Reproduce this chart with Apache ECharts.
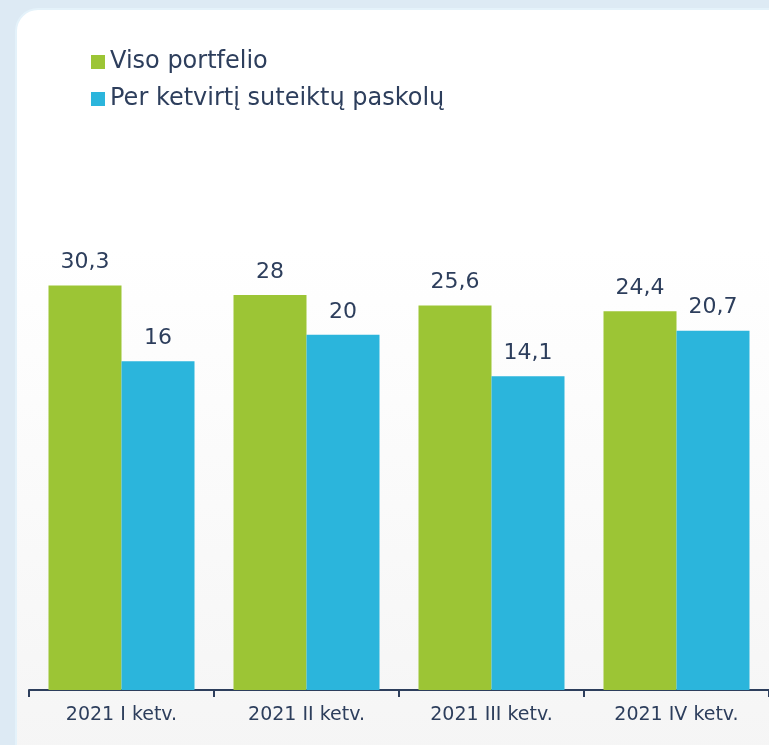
<!DOCTYPE html>
<html>
<head>
<meta charset="utf-8">
<script src="https://cdn.jsdelivr.net/npm/echarts@6/dist/echarts.min.js"></script>
<style>
    html, body { margin: 0; padding: 0; background: #ddeaf4; }
    #chart { width: 769px; height: 745px; }
</style>
</head>
<body>
<div id="chart"></div>
<script>
    // ketvirčiai
    var categories = ['2021 I ketv.', '2021 II ketv.', '2021 III ketv.', '2021 IV ketv.'];
    var seriesNames = ['Viso portfelio', 'Per ketvirtį suteiktų paskolų'];
    var visoPortfelio = [30.3, 28, 25.6, 24.4];
    var perKetvirti = [16, 20, 14.1, 20.7];

    var textColor = '#2d3e5c';
    var font = 'DejaVu Sans';

    var myChart = echarts.init(document.getElementById('chart'));

    function labelText(params) {
        return String(params.value).replace('.', ',');
    }

    var option = {
        backgroundColor: '#ddeaf4',
        animation: false,
        textStyle: { fontFamily: font },
        graphic: [
            {
                type: 'rect',
                z: -10,
                shape: { x: 16, y: 9, width: 820, height: 800, r: 22 },
                style: {
                    fill: {
                        type: 'linear', x: 0, y: 0, x2: 0, y2: 1,
                        colorStops: [
                            { offset: 0, color: '#ffffff' },
                            { offset: 0.3, color: '#ffffff' },
                            { offset: 1, color: '#f4f4f4' }
                        ]
                    },
                    stroke: '#e4f2fa',
                    lineWidth: 2
                }
            }
        ],
        legend: {
            orient: 'vertical',
            left: 86,
            top: 45,
            icon: 'rect',
            itemWidth: 14,
            itemHeight: 14,
            itemGap: 13,
            textStyle: {
                color: textColor,
                fontSize: 24,
                fontFamily: font
            },
            data: seriesNames
        },
        grid: {
            left: 29,
            width: 744,
            top: 144,
            bottom: 55
        },
        xAxis: {
            type: 'category',
            data: categories,
            axisLine: { show: true, lineStyle: { color: textColor, width: 2 } },
            axisTick: { show: true, length: 7, lineStyle: { color: textColor, width: 2 } },
            axisLabel: {
                color: textColor,
                fontSize: 19,
                margin: 16,
                fontFamily: font
            }
        },
        yAxis: {
            type: 'log',
            min: 1,
            max: 100,
            show: false,
            splitLine: { show: false }
        },
        series: [
            {
                name: seriesNames[0],
                type: 'bar',
                data: visoPortfelio,
                barWidth: 73,
                barGap: '0%',
                itemStyle: { color: '#9cc535' },
                label: {
                    show: true,
                    position: 'top',
                    distance: 12,
                    color: textColor,
                    fontSize: 22,
                    fontFamily: font,
                    formatter: labelText
                }
            },
            {
                name: seriesNames[1],
                type: 'bar',
                data: perKetvirti,
                barWidth: 73,
                barGap: '0%',
                itemStyle: { color: '#2bb5dc' },
                label: {
                    show: true,
                    position: 'top',
                    distance: 12,
                    color: textColor,
                    fontSize: 22,
                    fontFamily: font,
                    formatter: labelText
                }
            }
        ]
    };
    myChart.setOption(option);
</script>
</body>
</html>
